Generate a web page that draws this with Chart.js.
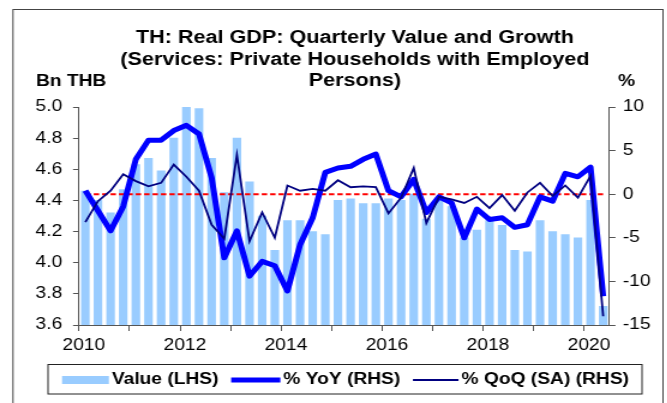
<!DOCTYPE html>
<html><head><meta charset="utf-8">
<script src="https://cdn.jsdelivr.net/npm/chart.js@4"></script>
<style>
html,body{margin:0;padding:0;background:#fff;width:667px;height:403px;overflow:hidden}
#wrap{position:absolute;left:0;top:0;width:556px;height:403px;transform:scaleX(1.2);transform-origin:0 0}
</style></head><body>
<div id="wrap"><canvas id="c" width="556" height="403"></canvas></div>
<script>
const quarters = ['2010Q1','2010Q2','2010Q3','2010Q4','2011Q1','2011Q2','2011Q3','2011Q4',
  '2012Q1','2012Q2','2012Q3','2012Q4','2013Q1','2013Q2','2013Q3','2013Q4',
  '2014Q1','2014Q2','2014Q3','2014Q4','2015Q1','2015Q2','2015Q3','2015Q4',
  '2016Q1','2016Q2','2016Q3','2016Q4','2017Q1','2017Q2','2017Q3','2017Q4',
  '2018Q1','2018Q2','2018Q3','2018Q4','2019Q1','2019Q2','2019Q3','2019Q4',
  '2020Q1','2020Q2'];
const valueLHS = [4.46,4.40,4.32,4.47,4.63,4.67,4.59,4.80,
  5.00,4.99,4.67,4.45,4.80,4.52,4.30,4.08,
  4.27,4.27,4.20,4.18,4.40,4.41,4.38,4.38,
  4.41,4.40,4.44,4.28,4.40,4.36,4.16,4.21,
  4.27,4.24,4.08,4.07,4.27,4.20,4.18,4.16,
  4.40,3.72];
const yoyRHS = [0.4,-1.9,-4.2,-1.4,4.0,6.2,6.2,7.3,
  7.9,6.9,1.9,-7.3,-4.2,-9.4,-7.7,-8.2,
  -11.1,-5.8,-2.7,2.5,3.0,3.2,4.0,4.6,
  0.4,-0.3,1.7,-2.1,-0.3,-1.0,-5.0,-1.7,
  -2.9,-2.7,-3.8,-3.5,-0.3,-0.8,2.4,2.0,
  3.1,-11.7];
const qoqRHS = [-3.2,-0.8,0.4,2.3,1.5,0.9,1.3,3.4,
  2.0,0.4,-3.5,-5.1,4.5,-5.4,-2.1,-5.0,
  1.0,0.4,0.6,0.4,1.6,0.8,0.9,0.8,
  -2.2,-0.4,3.0,-3.3,-0.3,-0.6,-1.0,-0.3,
  -1.6,-0.1,-1.9,0.2,1.3,-0.2,1.0,-0.4,
  2.1,-14.0];
const zeroRef = [0,0,0,0,0,0,0,0,0,0,0,0,0,0,0,0,0,0,0,0,0,
  0,0,0,0,0,0,0,0,0,0,0,0,0,0,0,0,0,0,0,0,0];
const xTickLabels = ['2010','2012','2014','2016','2018','2020'];
const seriesLabels = ['Value (LHS)','% YoY (RHS)','% QoQ (SA) (RHS)'];
const titleLines = ['TH: Real GDP: Quarterly Value and Growth',
  '(Services: Private Households with Employed','Persons)'];

const pts = arr => arr.map((v,i)=>({x:i+0.5,y:v}));
const FONT = '"Liberation Sans", Arial, sans-serif';
Chart.defaults.font.family = FONT;
Chart.defaults.color = '#000';

const decor = {
  id:'decor',
  beforeDraw(chart){
    const ctx = chart.ctx; ctx.save();
    ctx.strokeStyle = '#444'; ctx.lineWidth = 1;
    ctx.strokeRect(10.8, 9.5, 541.7, 430);
    ctx.restore();
  },
  afterDraw(chart){
    const ctx = chart.ctx; ctx.save();
    ctx.fillStyle = '#000';
    ctx.font = 'bold 18px ' + FONT; ctx.textAlign = 'center'; ctx.textBaseline = 'alphabetic';
    const tb = [43, 64.5, 86];
    titleLines.forEach((t,i)=>ctx.fillText(t, 295.8, tb[i]));
    ctx.font = 'bold 16px ' + FONT;
    ctx.textAlign = 'left'; ctx.fillText('Bn THB', 30, 86);
    ctx.textAlign = 'center'; ctx.fillText('%', 522, 86);
    // legend
    ctx.strokeStyle = '#222'; ctx.lineWidth = 1;
    ctx.strokeRect(40, 364.5, 495, 29.5);
    const ds = chart.data.datasets;
    const items = [ds[0], ds[1], ds[2]];
    const sw = [39, 41, 38];
    let x = 51.7; const cy = 380;
    ctx.font = 'bold 16px ' + FONT; ctx.textAlign = 'left'; ctx.textBaseline = 'middle';
    items.forEach((d,i)=>{
      if (d.type === 'line') {
        ctx.strokeStyle = d.borderColor; ctx.lineWidth = d.borderWidth;
        ctx.beginPath(); ctx.moveTo(x, cy); ctx.lineTo(x+sw[i], cy); ctx.stroke();
      } else {
        ctx.fillStyle = d.backgroundColor; ctx.fillRect(x, cy-4, sw[i], 8);
      }
      x += sw[i] + 2.5;
      ctx.fillStyle = '#000'; ctx.fillText(d.label, x, cy);
      x += ctx.measureText(d.label).width + 10.5;
    });
    ctx.restore();
  }
};

new Chart(document.getElementById('c'), {
  type:'bar',
  data:{datasets:[
    {type:'bar', label:seriesLabels[0], data:pts(valueLHS), yAxisID:'y', backgroundColor:'#99CCFF', barThickness:6.5, order:4},
    {type:'line', label:seriesLabels[1], data:pts(yoyRHS), yAxisID:'y1', borderColor:'#0000FF', borderWidth:5, pointRadius:0, tension:0, order:2, borderJoinStyle:'round'},
    {type:'line', label:seriesLabels[2], data:pts(qoqRHS), yAxisID:'y1', borderColor:'#000080', borderWidth:1.8, pointRadius:0, tension:0, order:1},
    {type:'line', label:'zero', data:pts(zeroRef), yAxisID:'y1', borderColor:'#FF0000', borderWidth:2, borderDash:[4.5,2.5], pointRadius:0, order:3}
  ]},
  options:{
    responsive:false, animation:false, devicePixelRatio:1,
    layout:{padding:{top:107, bottom:48, left:0, right:0}},
    plugins:{legend:{display:false}, title:{display:false}, tooltip:{enabled:false}},
    scales:{
      x:{type:'linear', min:0, max:42, offset:false,
        grid:{display:true, drawOnChartArea:false, drawTicks:true, tickLength:6, tickColor:'#555', offset:false},
        border:{display:true, color:'#555'},
        afterBuildTicks: s => { s.ticks = quarters.map((q,i)=>i).filter(i=>quarters[i].endsWith('Q1')).map(i=>({value:i})); },
        ticks:{autoSkip:false, maxRotation:0, minRotation:0, padding:5, labelOffset:4, color:'#000', font:{size:16},
          callback: v => { const q = quarters[v]; if(!q) return ''; const yr = q.slice(0,4); return xTickLabels.includes(yr) ? yr : ''; }},
        afterFit: s => { s.height = 30; }
      },
      y:{position:'left', min:3.6, max:5.0,
        grid:{display:true, drawOnChartArea:false, drawTicks:true, tickLength:5, tickColor:'#555'},
        border:{display:true, color:'#555'},
        ticks:{stepSize:0.2, padding:9, color:'#000', font:{size:16}, callback:v=>Number(v).toFixed(1)},
        afterFit: s => { s.width = 65.83; }
      },
      y1:{position:'right', min:-15, max:10,
        grid:{display:true, drawOnChartArea:false, drawTicks:true, tickLength:5, tickColor:'#555'},
        border:{display:true, color:'#555'},
        ticks:{stepSize:5, padding:6, color:'#000', font:{size:16}},
        afterFit: s => { s.width = 48.1; }
      }
    }
  },
  plugins:[decor]
});
</script>
</body></html>
